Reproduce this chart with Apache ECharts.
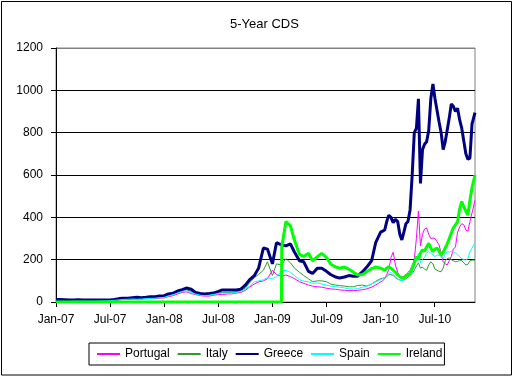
<!DOCTYPE html>
<html>
<head>
<meta charset="utf-8">
<title>5-Year CDS</title>
<script src="https://cdn.jsdelivr.net/npm/echarts@6/dist/echarts.min.js"></script>
<style>
  html, body { margin: 0; padding: 0; background: #fff; }
  #main { width: 514px; height: 377px; }
</style>
</head>
<body>
<div id="main"></div>
<script>
// observation dates: twice a month to end 2009 (plus the day Ireland starts), weekly in 2010
const dates = [
  "2007-01-01", "2007-01-15", "2007-02-01", "2007-02-15", "2007-03-01", "2007-03-15",
  "2007-04-01", "2007-04-15", "2007-05-01", "2007-05-15", "2007-06-01", "2007-06-15",
  "2007-07-01", "2007-07-15", "2007-08-01", "2007-08-15", "2007-09-01", "2007-09-15",
  "2007-10-01", "2007-10-15", "2007-11-01", "2007-11-15", "2007-12-01", "2007-12-15",
  "2008-01-01", "2008-01-15", "2008-02-01", "2008-02-15", "2008-03-01", "2008-03-15",
  "2008-04-01", "2008-04-15", "2008-05-01", "2008-05-15", "2008-06-01", "2008-06-15",
  "2008-07-01", "2008-07-15", "2008-08-01", "2008-08-15", "2008-09-01", "2008-09-15",
  "2008-10-01", "2008-10-15", "2008-11-01", "2008-11-15", "2008-12-01", "2008-12-15",
  "2009-01-01", "2009-01-15", "2009-02-01", "2009-02-02", "2009-02-15", "2009-03-01",
  "2009-03-15", "2009-04-01", "2009-04-15", "2009-05-01", "2009-05-15", "2009-06-01",
  "2009-06-15", "2009-07-01", "2009-07-15", "2009-08-01", "2009-08-15", "2009-09-01",
  "2009-09-15", "2009-10-01", "2009-10-15", "2009-11-01", "2009-11-15", "2009-12-01",
  "2009-12-15",
  "2010-01-01", "2010-01-08", "2010-01-15", "2010-01-22", "2010-01-29", "2010-02-05",
  "2010-02-12", "2010-02-19", "2010-02-26", "2010-03-05", "2010-03-12", "2010-03-19",
  "2010-03-26", "2010-04-02", "2010-04-09", "2010-04-16", "2010-04-23", "2010-04-30",
  "2010-05-07", "2010-05-14", "2010-05-21", "2010-05-28", "2010-06-04", "2010-06-11",
  "2010-06-18", "2010-06-25", "2010-07-02", "2010-07-09", "2010-07-16", "2010-07-23",
  "2010-07-30", "2010-08-06", "2010-08-13", "2010-08-20", "2010-08-27", "2010-09-03",
  "2010-09-10", "2010-09-17", "2010-09-24", "2010-10-01", "2010-10-08", "2010-10-15",
  "2010-10-22", "2010-10-29", "2010-11-05", "2010-11-15"
];

const portugal = [
  4, 4, 4, 4, 5, 5, 5, 5, 5, 5, 6, 6,
  7, 8, 10, 12, 13, 14, 12, 14, 15, 16, 17, 18,
  20, 25, 30, 38, 45, 48, 40, 35, 30, 28, 28, 32,
  35, 35, 38, 38, 42, 45, 55, 70, 85, 95, 100, 110,
  150, 130, 120, 120, 128, 120, 110, 96, 88, 80, 75, 72, 70, 65, 62, 60, 57, 55, 54, 54, 55, 58, 62, 70, 80,
  95, 100, 110, 130, 150, 210, 235, 175, 140, 120, 118, 120, 125, 140, 150, 170, 200, 300, 430, 265, 320, 345,
  350, 320, 300, 302, 300, 285, 270, 230, 190, 180, 175, 195, 215, 250, 260, 330, 355, 370, 365, 340, 335, 380,
  420, 480
];
const italy = [
  6, 6, 6, 6, 7, 7, 7, 7, 7, 7, 8, 8,
  9, 11, 14, 16, 17, 18, 16, 18, 20, 21, 22, 23,
  25, 30, 38, 45, 55, 58, 50, 40, 35, 33, 35, 38,
  42, 45, 45, 45, 48, 55, 65, 90, 115, 130, 150, 190,
  125, 180, 175, 175, 205, 185, 160, 140, 125, 110, 96, 100, 100, 96, 85, 80, 78, 75, 72, 72, 78, 80, 75, 85, 98,
  110, 112, 115, 120, 128, 130, 125, 115, 108, 104, 100, 104, 110, 118, 125, 135, 150, 170, 185, 160, 165, 155,
  150, 175, 190, 180, 155, 150, 145, 143, 160, 195, 205, 208, 200, 195, 190, 192, 198, 195, 185, 175, 178, 195,
  198, 198
];
const greece = [
  12, 12, 11, 10, 10, 11, 10, 10, 9, 9, 9, 9,
  10, 12, 16, 18, 18, 20, 22, 20, 22, 25, 25, 28,
  30, 38, 42, 52, 58, 66, 60, 45, 40, 38, 40, 42,
  50, 57, 57, 57, 57, 60, 80, 104, 125, 160, 255, 250,
  180, 280, 270, 270, 265, 275, 235, 195, 190, 145, 135, 160, 160, 145, 130, 118, 113, 118, 125, 122, 122, 143, 165, 195, 280,
  330, 335, 340, 380, 410, 400, 375, 390, 380, 320, 293, 330, 370, 380, 435, 600, 800, 820, 960, 560, 720, 745,
  757, 810, 960, 1030, 960, 905, 850, 800, 720, 757, 813, 870, 935, 925, 900, 915, 860, 820, 760, 700, 675, 680,
  840, 895
];
const spain = [
  3, 3, 3, 3, 4, 4, 4, 4, 4, 4, 5, 5,
  6, 8, 10, 12, 13, 14, 13, 14, 16, 17, 18, 20,
  22, 28, 35, 42, 50, 52, 45, 38, 32, 30, 32, 36,
  40, 42, 42, 42, 45, 50, 60, 75, 95, 100, 105, 115,
  110, 120, 145, 145, 150, 140, 125, 105, 98, 96, 88, 90, 85, 80, 75, 72, 70, 66, 62, 61, 63, 70, 75, 85, 95,
  105, 110, 115, 125, 135, 140, 130, 120, 108, 104, 100, 105, 115, 125, 128, 140, 170, 200, 230, 185, 200, 210,
  230, 238, 230, 222, 215, 222, 220, 215, 205, 225, 238, 235, 240, 238, 232, 225, 214, 205, 200, 198, 205, 238,
  255, 280
];
// no Irish quotes before February 2009: the sheet plots them as zero
const ireland = [
  0, 0, 0, 0, 0, 0, 0, 0, 0, 0, 0, 0,
  0, 0, 0, 0, 0, 0, 0, 0, 0, 0, 0, 0,
  0, 0, 0, 0, 0, 0, 0, 0, 0, 0, 0, 0,
  0, 0, 0, 0, 0, 0, 0, 0, 0, 0, 0, 0,
  0, 0, 0, 260, 380, 360, 290, 225, 215, 230, 195, 214, 230, 210, 180, 165, 160, 165, 155, 140, 128, 130, 143, 158, 165,
  160, 155, 150, 160, 167, 160, 150, 140, 128, 120, 113, 115, 125, 128, 135, 160, 185, 214, 200, 231, 246, 240,
  260, 277, 255, 238, 250, 255, 240, 222, 235, 255, 275, 300, 326, 350, 365, 380, 440, 475, 450, 430, 410, 480,
  540, 600
];

const tickLabels = ["Jan-07", "Jul-07", "Jan-08", "Jul-08", "Jan-09", "Jul-09", "Jan-10", "Jul-10"];
const names = ["Portugal", "Italy", "Greece", "Spain", "Ireland"];
const colors = ["#ff00ff", "#339933", "#000080", "#00ffff", "#00ff00"];
const widths = [1, 1, 3, 1, 3];

// months since Jan 2007, so the x axis is a plain value axis
function monthIndex(s) {
  const [y, m, d] = s.split("-").map(Number);
  const days = new Date(y, m, 0).getDate();
  return (y - 2007) * 12 + (m - 1) + (d - 1) / days;
}
const xs = dates.map(monthIndex);
const font = "'Liberation Sans', Arial, sans-serif";

const options = {
  animation: false,
  backgroundColor: "#fff",
  textStyle: { fontFamily: font, color: "#000" },
  title: {
    text: "5-Year CDS",
    left: 225,
    top: 13,
    textStyle: { fontFamily: font, fontSize: 13, fontWeight: "normal", color: "#000" }
  },
  grid: {
    left: 56, top: 48, right: 39, bottom: 75,
    show: true, borderColor: "#808080", borderWidth: 1, backgroundColor: "#fff"
  },
  legend: {
    left: 89, top: 343,
    padding: [5, 2, 5, 7],
    itemGap: 7, itemWidth: 23, itemHeight: 14,
    borderColor: "#000", borderWidth: 1,
    itemStyle: { opacity: 0 },
    textStyle: { fontFamily: font, fontSize: 12, color: "#000" },
    data: names
  },
  xAxis: {
    type: "value",
    min: 0,
    max: xs[xs.length - 1],
    axisLine: { lineStyle: { color: "#000", width: 1 } },
    axisTick: { customValues: [0, 6, 12, 18, 24, 30, 36, 42], length: 5, lineStyle: { color: "#000" } },
    axisLabel: {
      customValues: [0, 6, 12, 18, 24, 30, 36, 42],
      margin: 12, fontSize: 12, fontFamily: font, color: "#000",
      formatter: (v) => tickLabels[Math.round(v / 6)] || ""
    },
    splitLine: { show: false }
  },
  yAxis: {
    type: "value",
    min: 0, max: 1200, interval: 200,
    axisLine: { show: true, lineStyle: { color: "#000", width: 1 } },
    axisTick: { show: true, length: 5, lineStyle: { color: "#000" } },
    axisLabel: { margin: 13, fontSize: 12, fontFamily: font, color: "#000", formatter: (v) => String(v) },
    splitLine: { lineStyle: { color: ["#000", "#000", "#000", "#000", "#000", "#000", "#808080"], width: 1 } }
  },
  series: [portugal, italy, greece, spain, ireland].map((vals, i) => ({
    name: names[i],
    type: "line",
    symbol: "none",
    color: colors[i],
    lineStyle: { width: widths[i], color: colors[i] },
    data: vals.map((v, j) => [xs[j], v])
  })),
  graphic: [{
    type: "rect",
    shape: { x: 1.5, y: 1.5, width: 510, height: 373.5 },
    style: { fill: null, stroke: "#000", lineWidth: 1 },
    silent: true
  }]
};

var myChart = echarts.init(document.getElementById("main"), null, { renderer: "canvas" });
myChart.setOption(options);
</script>
</body>
</html>
